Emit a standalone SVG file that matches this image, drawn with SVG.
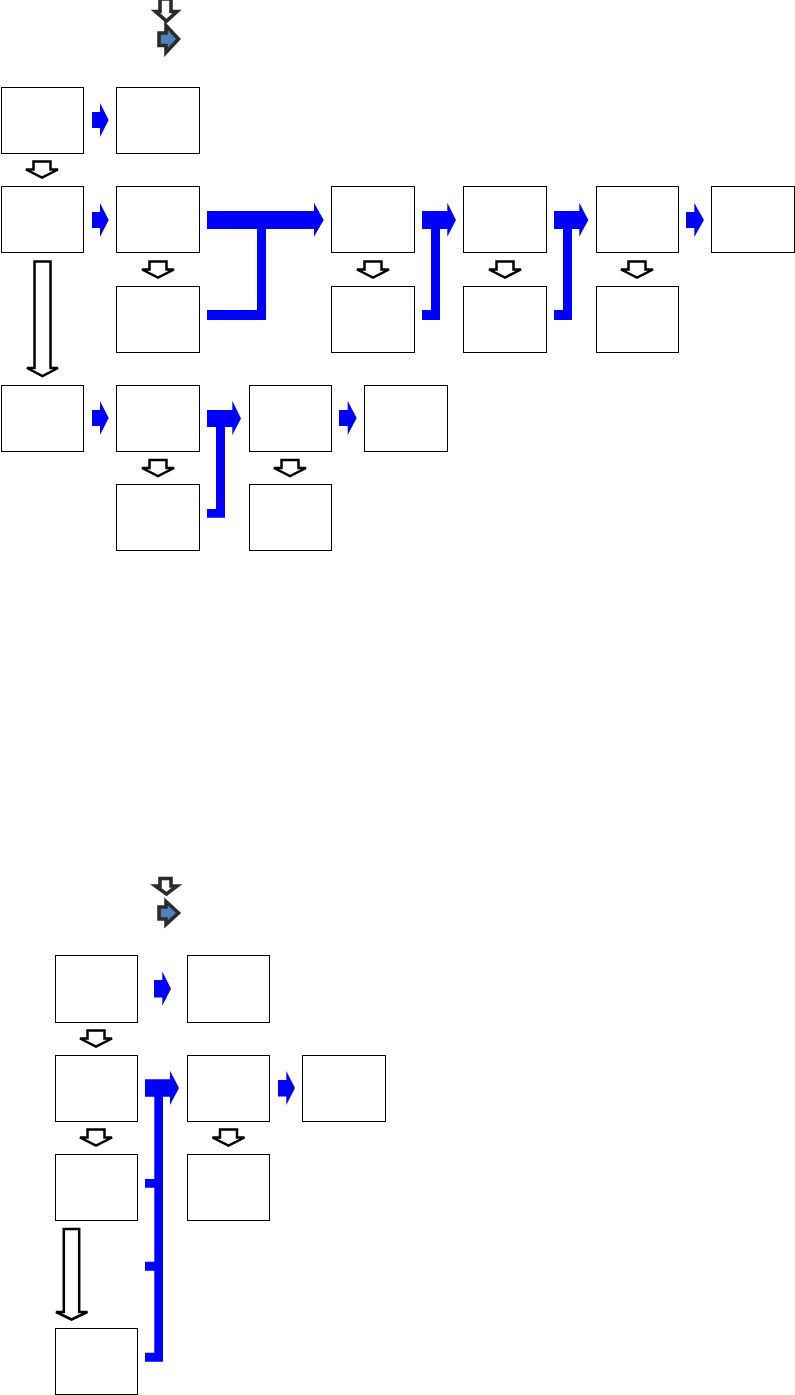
<svg xmlns="http://www.w3.org/2000/svg" width="795" height="1395" viewBox="0 0 795 1395">
<style>
.box{fill:#fff;stroke:#000;stroke-width:1}
.hollow{fill:#fff;stroke:#000;stroke-width:2.5;stroke-linejoin:miter}
.blue{fill:#0000ff;stroke:none}
.leg{stroke:#2b2b2b;stroke-width:3.6;stroke-linejoin:miter}
</style>
<defs>
<path id="hd" d="M-8.5,0 H8.5 V8 H16 L0,16 L-16,8 H-8.5 Z"/>
</defs>
<rect width="795" height="1395" fill="#fff"/>
<g id="legend-top">
<path class="leg" fill="#fff" d="M160,-1 H171 V11.5 H177 L166.5,21 L155.5,11.5 H160 Z"/>
<path class="leg" fill="#4f81bd" d="M159,33 H166 V25.5 L178.5,39 L166,52.5 V45.5 H159 Z"/>
</g>
<g id="legend-bottom">
<path class="leg" fill="#fff" d="M160,878.5 H171 V886 H177 L166.5,894 L155.5,886 H160 Z"/>
<path class="leg" fill="#4f81bd" d="M159,907 H166 V901.5 L178.5,913 L166,924.5 V919 H159 Z"/>
</g>
<g id="nodes">
<rect id="n1" class="box" x="1.5" y="87.5" width="82" height="66"/>
<rect id="n2" class="box" x="116.5" y="87.5" width="83" height="66"/>
<rect id="n3" class="box" x="1.5" y="186.5" width="82" height="66"/>
<rect id="n4" class="box" x="116.5" y="186.5" width="83" height="66"/>
<rect id="n5" class="box" x="331.5" y="186.5" width="83" height="66"/>
<rect id="n6" class="box" x="463.5" y="186.5" width="83" height="66"/>
<rect id="n7" class="box" x="596.5" y="186.5" width="82" height="66"/>
<rect id="n8" class="box" x="711.5" y="186.5" width="83" height="66"/>
<rect id="n9" class="box" x="116.5" y="286.5" width="83" height="66"/>
<rect id="n10" class="box" x="331.5" y="286.5" width="83" height="66"/>
<rect id="n11" class="box" x="463.5" y="286.5" width="83" height="66"/>
<rect id="n12" class="box" x="596.5" y="286.5" width="82" height="66"/>
<rect id="n13" class="box" x="1.5" y="385.5" width="82" height="66"/>
<rect id="n14" class="box" x="116.5" y="385.5" width="83" height="66"/>
<rect id="n15" class="box" x="249.5" y="385.5" width="82" height="66"/>
<rect id="n16" class="box" x="364.5" y="385.5" width="83" height="66"/>
<rect id="n17" class="box" x="116.5" y="484.5" width="83" height="66"/>
<rect id="n18" class="box" x="249.5" y="484.5" width="82" height="66"/>
<rect id="m1" class="box" x="55.5" y="955.5" width="82" height="67"/>
<rect id="m2" class="box" x="187.5" y="955.5" width="82" height="67"/>
<rect id="m3" class="box" x="55.5" y="1055.5" width="82" height="66"/>
<rect id="m4" class="box" x="187.5" y="1055.5" width="82" height="66"/>
<rect id="m5" class="box" x="302.5" y="1055.5" width="83" height="66"/>
<rect id="m6" class="box" x="55.5" y="1154.5" width="82" height="66"/>
<rect id="m7" class="box" x="187.5" y="1154.5" width="82" height="66"/>
<rect id="m8" class="box" x="55.5" y="1328.5" width="82" height="66"/>
</g>
<g id="connectors">
<use href="#hd" class="hollow" x="42" y="161.5"/>
<use href="#hd" class="hollow" x="158" y="261.5"/>
<use href="#hd" class="hollow" x="373" y="261.5"/>
<use href="#hd" class="hollow" x="505" y="261.5"/>
<use href="#hd" class="hollow" x="637" y="261.5"/>
<use href="#hd" class="hollow" x="158" y="460"/>
<use href="#hd" class="hollow" x="290" y="460"/>
<use href="#hd" class="hollow" x="96" y="1030.5"/>
<use href="#hd" class="hollow" x="96" y="1129.5"/>
<use href="#hd" class="hollow" x="228.5" y="1129.5"/>
<path class="hollow" d="M34.5,261.5 H50.5 V368 H58 L42.5,376 L27,368 H34.5 Z"/>
<path class="hollow" d="M63.8,1229 H79.2 V1312 H87.5 L71.5,1319.5 L56,1312 H63.8 Z"/>
<path class="blue" d="M92,112 H100 V103 L108.7,120 L100,137 V128 H92 Z"/>
<path class="blue" d="M92,212 H100 V203 L108.7,220 L100,237 V228 H92 Z"/>
<path class="blue" d="M92,410 H100 V401 L108.7,418 L100,435 V426 H92 Z"/>
<path class="blue" d="M686,212 H694.3 V203 L704,220 L694.3,237 V228 H686 Z"/>
<path class="blue" d="M339,410 H347.7 V401 L356.7,418 L347.7,435 V426 H339 Z"/>
<path class="blue" d="M154,980 H162.3 V971.5 L171,988.7 L162.3,1005.7 V997.5 H154 Z"/>
<path class="blue" d="M278,1080 H286.3 V1071 L295,1088 L286.3,1105 V1096.5 H278 Z"/>
<path class="blue" d="M207,211 H314 V202.7 L323.7,220 L314,236.7 V229 H266 V320 H207 V310 H257 V229 H207 Z"/>
<path class="blue" d="M422,211 H447.3 V202.7 L456,220 L447.3,236.7 V229 H440 V320 H422 V310 H431 V229 H422 Z"/>
<path class="blue" d="M554,211 H579.3 V202.7 L588.3,220 L579.3,236.7 V229 H572 V320 H554 V310 H563 V229 H554 Z"/>
<path class="blue" d="M207,410 H232.3 V400.7 L241,418.5 L232.3,435 V427 H225 V517.7 H207 V509 H216 V427 H207 Z"/>
<path class="blue" d="M145,1079.3 H170 V1070.7 L179,1088 L170,1105 V1096.7 H163 V1361.7 H145 V1352.7 H154.3 V1270.7 H145 V1261.7 H154.3 V1187.7 H145 V1179 H154.3 V1096.7 H145 Z"/>
</g>
</svg>
